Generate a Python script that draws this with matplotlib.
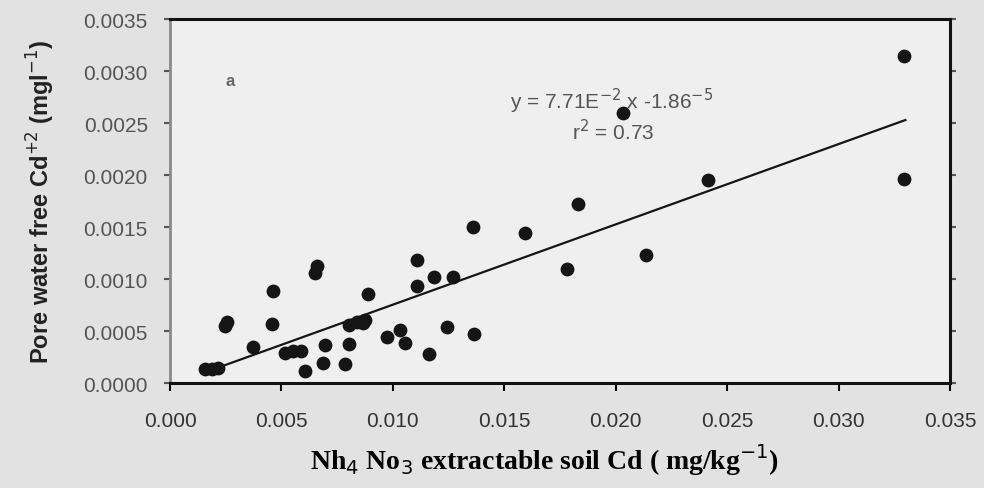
import matplotlib.pyplot as plt

# NH4NO3 extractable soil Cd (mg/kg) vs pore water free Cd (mg/l)
soil_cd = [0.00157, 0.00188, 0.00215, 0.00247, 0.00256, 0.00372, 0.00462, 0.00458,
           0.00516, 0.00552, 0.00588, 0.00606, 0.00651, 0.00660, 0.00687, 0.00696,
           0.00785, 0.00803, 0.00803, 0.00839, 0.00866, 0.00875, 0.00888, 0.00974,
           0.01032, 0.01054, 0.01108, 0.01108, 0.01162, 0.01185, 0.01270, 0.01243,
           0.01364, 0.01360, 0.01593, 0.01781, 0.01830, 0.02033, 0.02136, 0.02414,
           0.03294, 0.03294]
pore_cd = [0.000135, 0.000135, 0.000140, 0.00055, 0.00059, 0.000346, 0.000885, 0.000567,
           0.000288, 0.000308, 0.000308, 0.000115, 0.00106, 0.00113, 0.000192, 0.000365,
           0.000183, 0.000375, 0.00056, 0.00059, 0.00058, 0.00061, 0.000856, 0.00044,
           0.00051, 0.000385, 0.00118, 0.00093, 0.000279, 0.00102, 0.00102, 0.00054,
           0.00047, 0.00150, 0.00144, 0.00110, 0.00172, 0.00260, 0.00123, 0.00195,
           0.00314, 0.00196]

# trend line
slope = 0.0772
intercept = -0.0000186
line_x = [0.0017, 0.0330]
line_y = [slope * v + intercept for v in line_x]

x_ticks = [0.000, 0.005, 0.010, 0.015, 0.020, 0.025, 0.030, 0.035]
y_ticks = [0.0000, 0.0005, 0.0010, 0.0015, 0.0020, 0.0025, 0.0030, 0.0035]

fig = plt.figure(figsize=(9.84, 4.89), dpi=100, facecolor='#e2e2e2')
ax = fig.add_axes([0.1728, 0.2147, 0.7926, 0.7443])
ax.set_facecolor('#efefef')

ax.scatter(soil_cd, pore_cd, s=80, color='#151515', zorder=3)
ax.plot(line_x, line_y, color='#151515', lw=1.6, zorder=2)

ax.set_xlim(0, 0.035)
ax.set_ylim(0, 0.0035)
ax.set_xticks(x_ticks)
ax.set_xticklabels([f'{v:.3f}' for v in x_ticks], fontsize=15,
                   family='Liberation Sans', color='#333333')
ax.set_yticks(y_ticks)
ax.set_yticklabels([f'{v:.4f}' for v in y_ticks], fontsize=15,
                   family='Liberation Sans', color='#555555')
ax.tick_params(axis='x', direction='out', length=6, width=1.5, pad=14)
ax.tick_params(axis='y', direction='out', length=4, width=1.5, pad=12,
               right=True, colors='#555555')

for side in ['top', 'bottom', 'right']:
    ax.spines[side].set_color('#111111')
    ax.spines[side].set_linewidth(2.2)
ax.spines['left'].set_color('#8a8a8a')
ax.spines['left'].set_linewidth(2.0)

ax.set_xlabel('Nh$_{4}$ No$_{3}$ extractable soil Cd ( mg/kg$^{-1}$)',
              fontsize=20, family='Liberation Serif', fontweight='bold')
ax.xaxis.set_label_coords(0.48, -0.16)
ax.set_ylabel('Pore water free Cd$^{+2}$ (mgl$^{-1}$)', fontsize=17,
              family='Liberation Sans', fontweight='bold', color='#222222')
ax.yaxis.set_label_coords(-0.145, 0.5)

# regression text
ax.text(0.0198, 0.00272, 'y = 7.71E$^{-2}$ x -1.86$^{-5}$', fontsize=15,
        family='Liberation Sans', color='#555555', ha='center', va='center')
ax.text(0.0199, 0.00243, 'r$^{2}$ = 0.73', fontsize=15,
        family='Liberation Sans', color='#555555', ha='center', va='center')

# panel label
ax.text(0.0027, 0.00291, 'a', fontsize=12, family='Liberation Sans',
        fontweight='bold', color='#666666', ha='center', va='center')

fig.savefig('out.png', dpi=100, facecolor=fig.get_facecolor())
